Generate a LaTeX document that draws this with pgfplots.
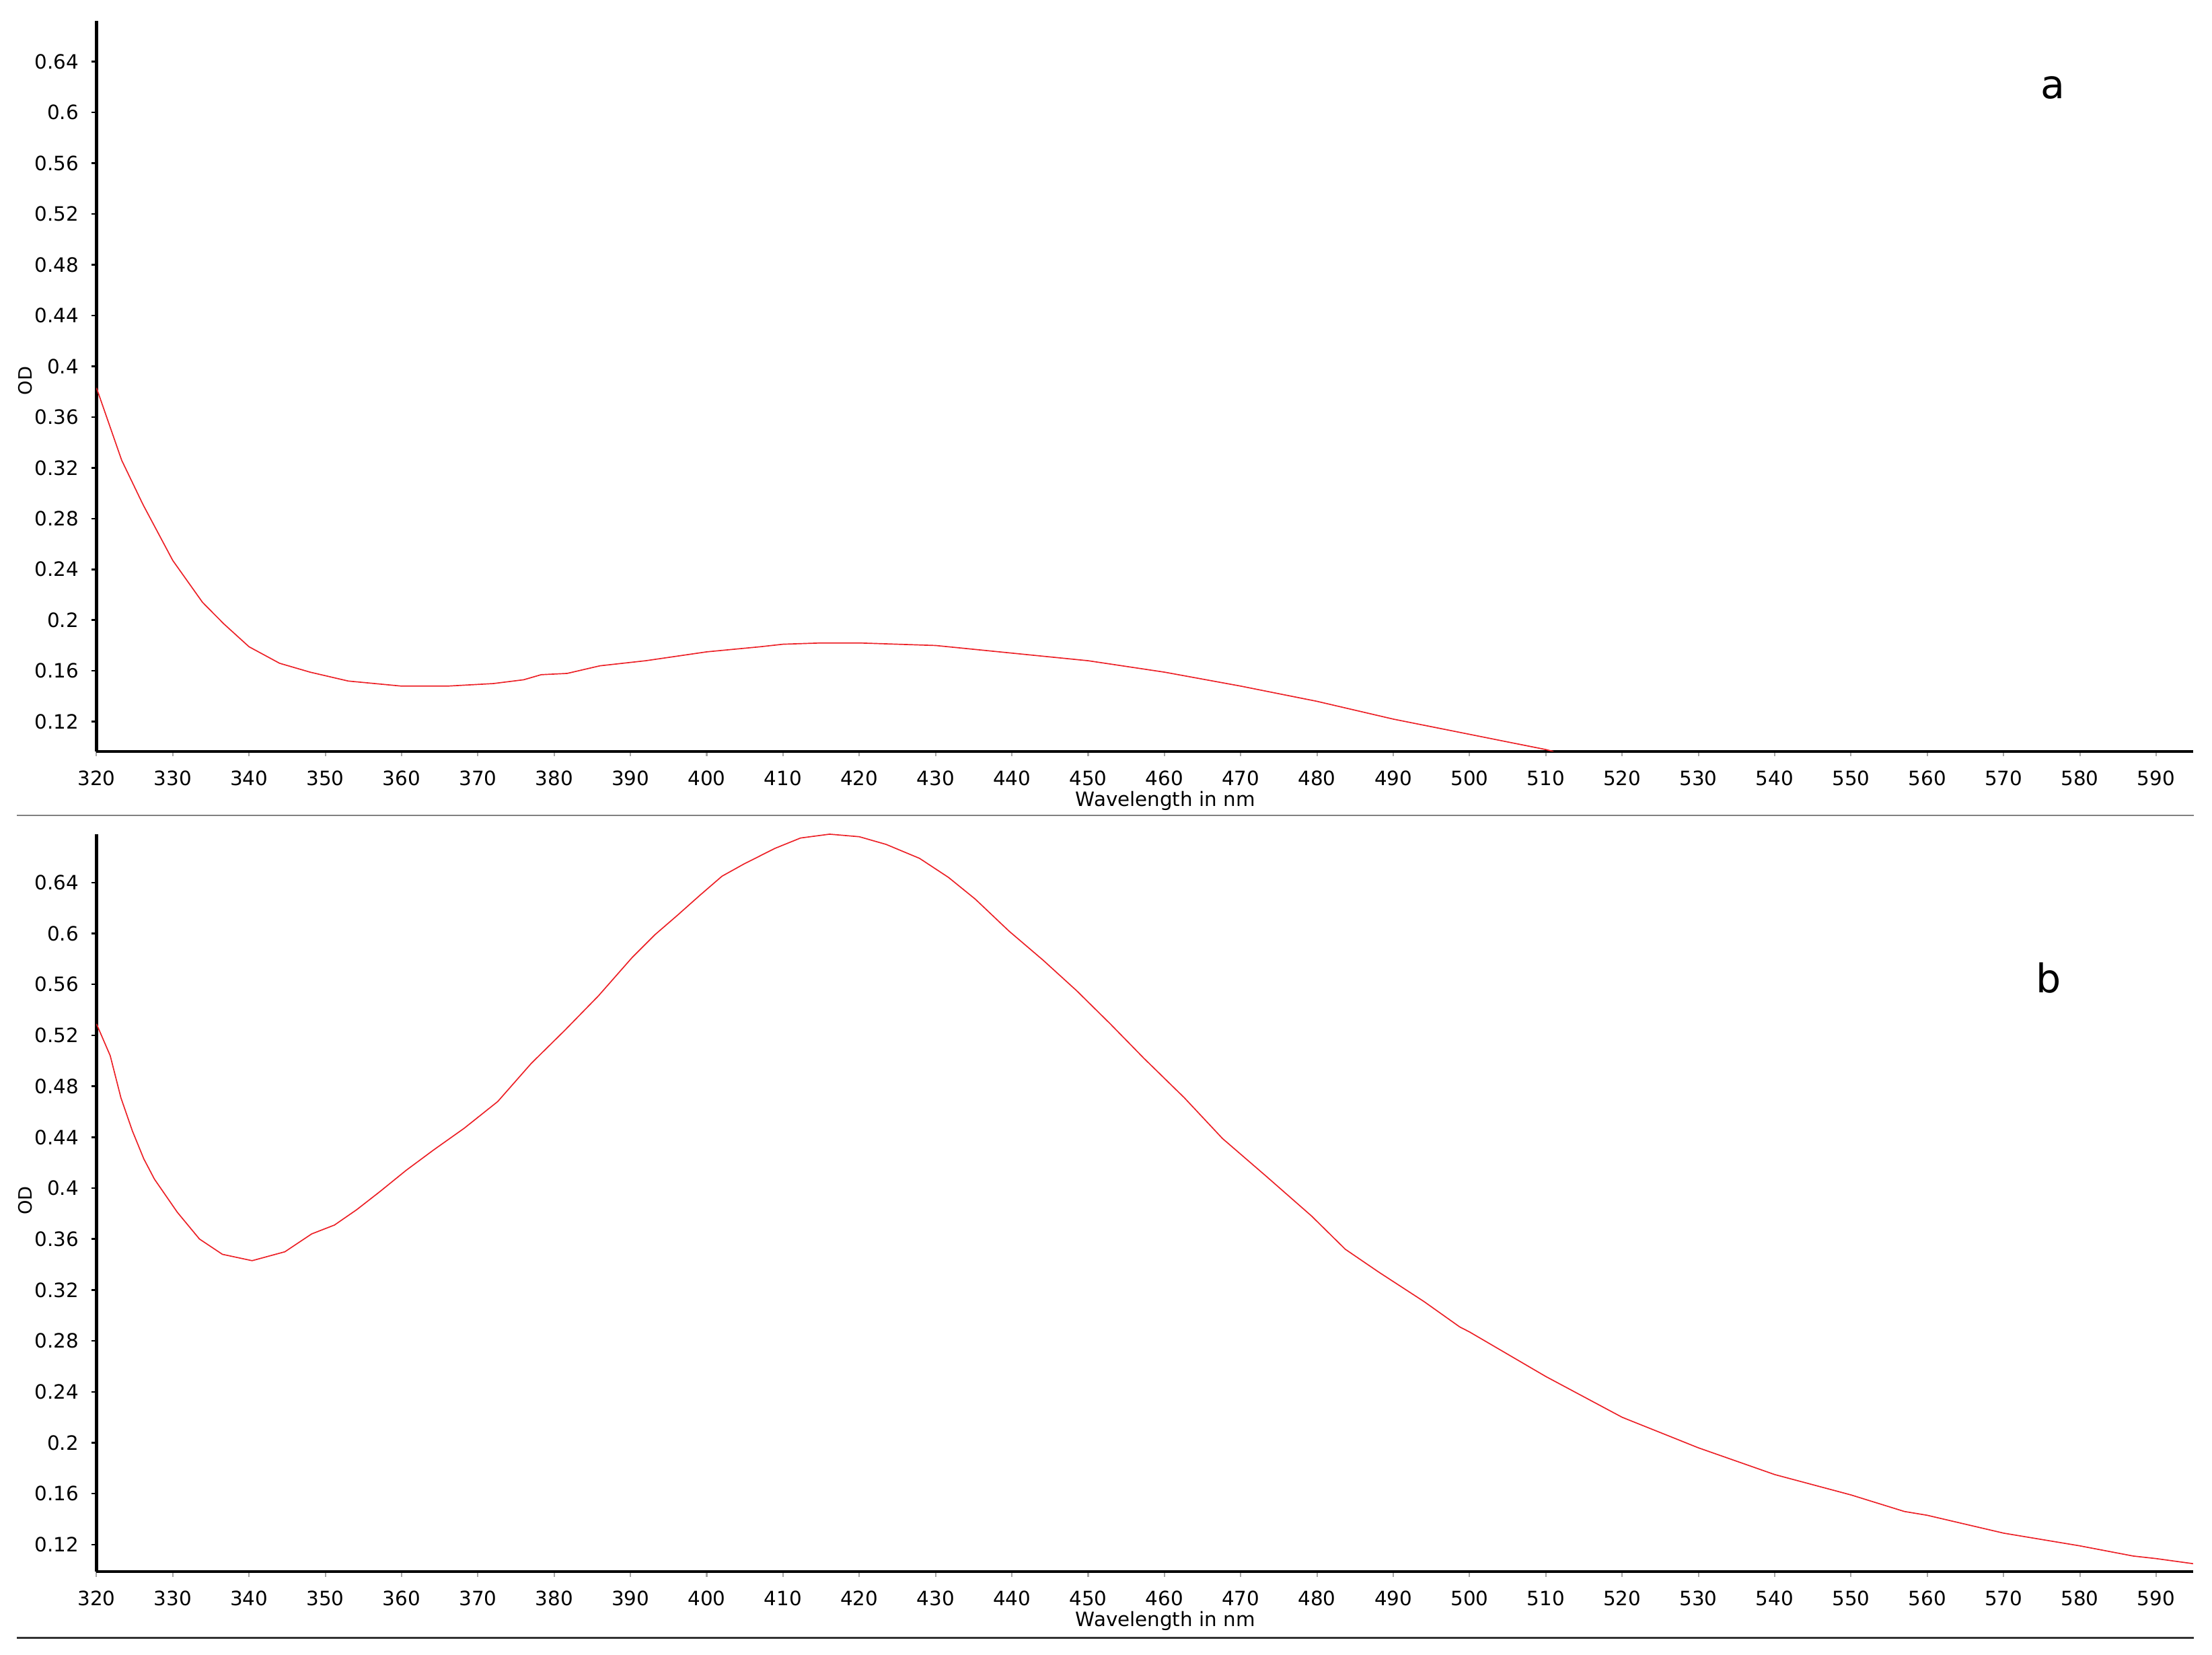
\documentclass[border=0pt]{standalone}
\usepackage{fontspec}
\setmainfont{DejaVu Sans}
\usepackage{pgfplots}
\pgfplotsset{compat=1.18}
\definecolor{curvered}{RGB}{236,32,38}
\begin{document}
\begin{tikzpicture}
\useasboundingbox (0pt,0pt) rectangle (784pt,586.5pt);
\pgfplotsset{
  spec/.style={
    scale only axis, width=743.1pt,
    xmin=320, xmax=594.85,
    axis x line*=bottom, axis y line*=left,
    axis line style={line width=1pt, black},
    xtick={320,330,...,590},
    ytick={0.12,0.16,0.2,0.24,0.28,0.32,0.36,0.4,0.44,0.48,0.52,0.56,0.6,0.64},
    tick align=outside,
    major tick length=1.8pt,
    y tick style={black, line width=0.6pt},
    x tick style={black!35, line width=0.5pt},
    /pgf/number format/assume math mode=true,
    yticklabel style={/pgf/number format/fixed, /pgf/number format/precision=2,
      font=\fontsize{7}{8}\selectfont, xshift=-1pt},
    xticklabel style={/pgf/number format/fixed, /pgf/number format/1000 sep={},
      font=\fontsize{7}{8}\selectfont, yshift=-1.5pt},
    xlabel={Wavelength in nm},
    ylabel={OD},
    xlabel style={font=\fontsize{7}{8}\selectfont, at={(axis description cs:0.5098,0)}, anchor=center, yshift=-17.5pt},
    cycle list={{curvered, line width=0.9pt, no markers, smooth, tension=0.4}},
  }
}
\draw[black!50, line width=0.6pt] (6pt,297.5pt) -- (777.5pt,297.5pt);
\draw[black!80, line width=0.6pt] (6pt,6pt) -- (777.5pt,6pt);

% ---------- panel a ----------
\begin{axis}[spec, at={(34.2pt,320.25pt)}, anchor=south west, height=258.95pt,
  ymin=0.0967, ymax=0.6724,
  ylabel style={font=\fontsize{6.5}{8}\selectfont, at={(axis description cs:-0.0339,0.507)}, anchor=center}]
\addplot coordinates {
(320,0.383) (323.3,0.326) (326.1,0.291) (330,0.247) (333.9,0.214) (336.7,0.197)
(340,0.179) (344,0.166) (348,0.159) (353,0.152) (360,0.148) (366,0.148)
(372,0.150) (376,0.153) (378.3,0.157) (381.7,0.158) (386,0.164) (392,0.168)
(400,0.175) (407,0.179) (410,0.181) (415,0.182) (420,0.182) (425,0.181)
(430,0.180) (440,0.174) (450,0.168) (460,0.159) (470,0.148) (480,0.136)
(490,0.122) (500,0.110) (510,0.098) (511,0.0965)
};
\node at (axis description cs:0.933,0.908) {\fontsize{14}{16}\selectfont a};
\end{axis}

% ---------- panel b ----------
\begin{axis}[spec, at={(34.2pt,29.5pt)}, anchor=south west, height=261.35pt,
  ymin=0.0988, ymax=0.678,
  ylabel style={font=\fontsize{6.5}{8}\selectfont, at={(axis description cs:-0.0339,0.503)}, anchor=center}]
\addplot coordinates {
(320,0.529) (321.8,0.504) (323.2,0.471) (324.7,0.445) (326.2,0.423) (327.6,0.407)
(330.6,0.381) (333.5,0.360) (336.5,0.348) (340.4,0.343) (344.7,0.350) (348.2,0.364)
(351.2,0.371) (354.1,0.383) (357.1,0.397) (360.6,0.414) (364.2,0.430) (368.2,0.447)
(372.6,0.468) (377.0,0.498) (381.4,0.524) (385.8,0.551) (390.2,0.581) (393.2,0.599)
(396.1,0.614) (399.1,0.630) (402.0,0.645) (405.0,0.655) (409.0,0.667) (412.3,0.675)
(416.1,0.678) (420.0,0.676) (423.5,0.670) (427.9,0.659) (431.7,0.644) (435.2,0.627)
(439.6,0.602) (444.1,0.579) (448.5,0.555) (452.9,0.529) (457.3,0.502) (462.6,0.471)
(467.6,0.439) (473.4,0.409) (479.3,0.378) (483.7,0.352) (488.1,0.334) (494.0,0.311)
(498.7,0.291) (500,0.287) (510,0.252) (520,0.220) (530,0.196) (540,0.175)
(550,0.159) (557,0.146) (560,0.143) (570,0.129) (580,0.119) (587,0.111)
(590,0.109) (594.85,0.105)
};
\node at (axis description cs:0.931,0.805) {\fontsize{14}{16}\selectfont b};
\end{axis}
\end{tikzpicture}
\end{document}
